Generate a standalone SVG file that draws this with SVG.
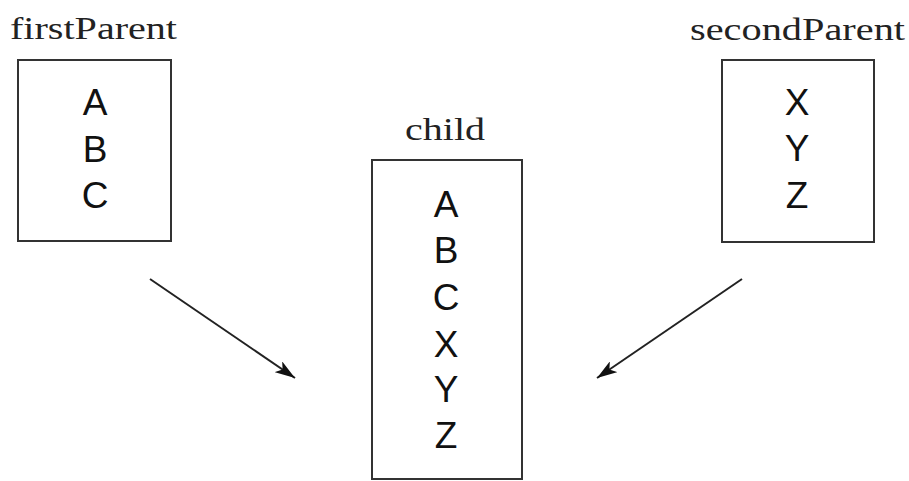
<svg xmlns="http://www.w3.org/2000/svg" width="909" height="481" viewBox="0 0 909 481">
<defs>
<marker id="ah" markerWidth="20" markerHeight="13" refX="20" refY="6.5" orient="auto" markerUnits="userSpaceOnUse">
<path d="M0,0 L20,6.5 L0,13 L5,6.5 Z" fill="#111"/>
</marker>
<style>
.box{fill:#fff;stroke:#333;stroke-width:2}
.lbl{font-family:"Liberation Serif","Times New Roman",serif;font-size:32px;fill:#222}
.item{font-family:"Liberation Sans",Arial,sans-serif;font-size:37px;fill:#111;text-anchor:middle}
.conn{stroke:#222;stroke-width:2;fill:none}
</style>
</defs>
<rect width="909" height="481" fill="#fff"/>
<g id="firstParent">
<text class="lbl" x="10" y="39" textLength="167" lengthAdjust="spacingAndGlyphs">firstParent</text>
<rect class="box" x="18" y="60" width="153" height="181"/>
<text class="item" x="95" y="115">A</text>
<text class="item" x="95" y="162">B</text>
<text class="item" x="95" y="208">C</text>
</g>
<g id="child">
<text class="lbl" x="405" y="140" textLength="80" lengthAdjust="spacingAndGlyphs">child</text>
<rect class="box" x="372" y="160" width="150" height="319"/>
<text class="item" x="446" y="217">A</text>
<text class="item" x="446" y="263">B</text>
<text class="item" x="446" y="310">C</text>
<text class="item" x="446" y="357">X</text>
<text class="item" x="446" y="402">Y</text>
<text class="item" x="446" y="448">Z</text>
</g>
<g id="secondParent">
<text class="lbl" x="690" y="40" textLength="215" lengthAdjust="spacingAndGlyphs">secondParent</text>
<rect class="box" x="722" y="60" width="152" height="182"/>
<text class="item" x="797" y="115">X</text>
<text class="item" x="797" y="161">Y</text>
<text class="item" x="797" y="208">Z</text>
</g>
<g id="connectors">
<line class="conn" x1="150" y1="279" x2="295" y2="378" marker-end="url(#ah)"/>
<line class="conn" x1="742" y1="279" x2="597" y2="378" marker-end="url(#ah)"/>
</g>
</svg>
